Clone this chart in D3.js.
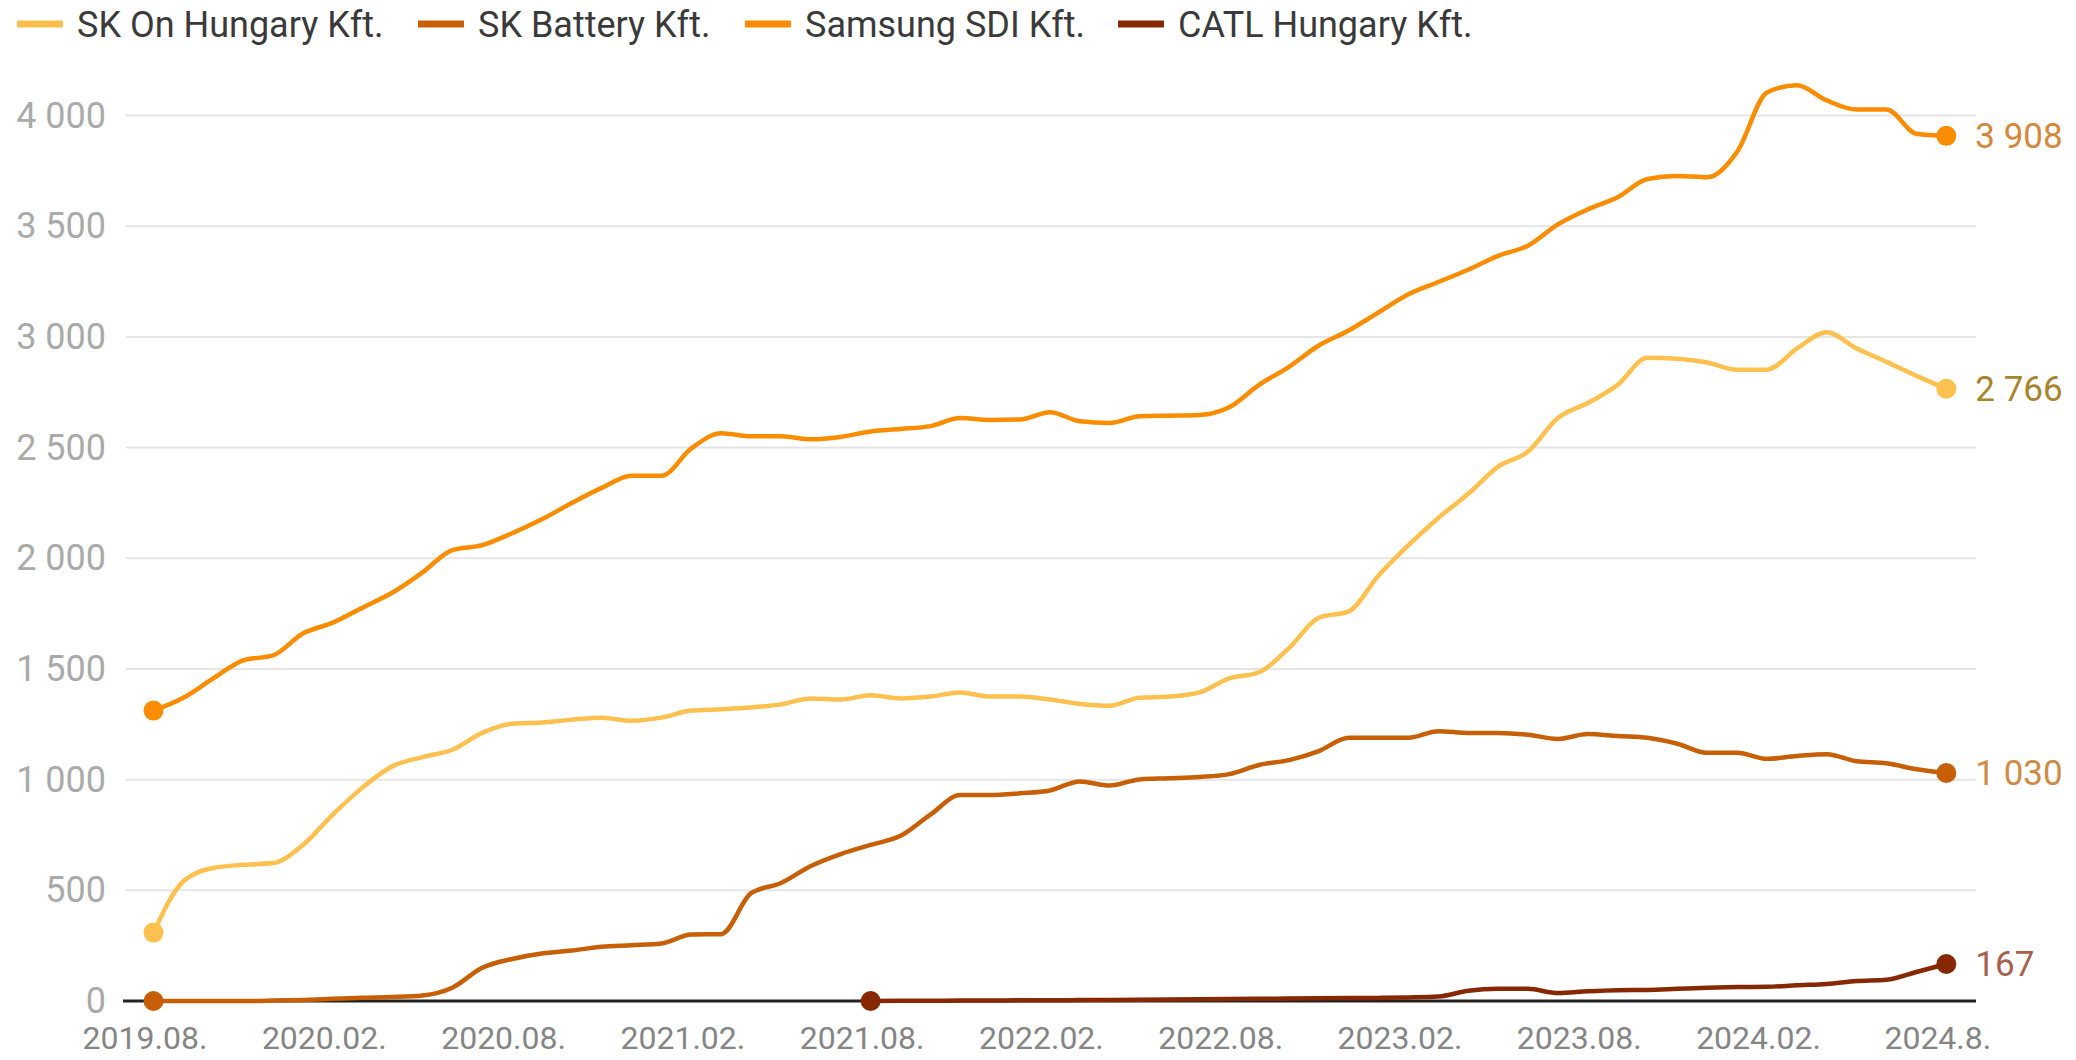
<!DOCTYPE html>
<html>
<head>
<meta charset="utf-8">
<script src="https://cdn.jsdelivr.net/npm/d3@7"></script>
<style>
  body { margin: 0; background: #fff; }
  svg { display: block; font-family: Roboto, "Noto Sans", sans-serif; }
</style>
</head>
<body>
<div class="chart"></div>
<script>
// monthly headcount, 2019.08 .. 2024.08 (61 months)
const tickMonths = [0, 6, 12, 18, 24, 30, 36, 42, 48, 54, 60]
const tickLabels = ["2019.08.", "2020.02.", "2020.08.", "2021.02.", "2021.08.", "2022.02.",
                    "2022.08.", "2023.02.", "2023.08.", "2024.02.", "2024.8."]
const yTicks = [0, 500, 1000, 1500, 2000, 2500, 3000, 3500, 4000]

const seriesNames = ["SK On Hungary Kft.", "SK Battery Kft.", "Samsung SDI Kft.", "CATL Hungary Kft."]

const skOn = [309, 541, 601, 615, 623, 705, 842, 965, 1061, 1102, 1135, 1211, 1252, 1258, 1271, 1280,
  1266, 1280, 1312, 1318, 1326, 1340, 1367, 1362, 1381, 1367, 1375, 1394, 1375, 1375, 1362, 1342,
  1334, 1370, 1375, 1394, 1457, 1485, 1594, 1731, 1760, 1922, 2059, 2182, 2291, 2414, 2482, 2633,
  2701, 2783, 2906, 2901, 2884, 2852, 2852, 2947, 3021, 2947, 2887, 2824, 2766]

const skBattery = [0, 0, 0, 0, 2, 5, 10, 15, 18, 25, 60, 150, 190, 215, 228, 245, 252, 260, 300, 302,
  487, 533, 610, 664, 705, 746, 842, 930, 930, 938, 951, 992, 973, 1001, 1006, 1012, 1025, 1066,
  1088, 1129, 1189, 1189, 1189, 1219, 1211, 1211, 1203, 1184, 1206, 1197, 1189, 1162, 1121, 1121,
  1094, 1107, 1115, 1083, 1074, 1047, 1030]

const samsung = [1312, 1370, 1457, 1539, 1561, 1660, 1709, 1777, 1845, 1936, 2037, 2059, 2113, 2176,
  2250, 2318, 2373, 2373, 2496, 2565, 2551, 2551, 2537, 2548, 2573, 2584, 2597, 2633, 2625, 2627,
  2660, 2619, 2611, 2641, 2644, 2647, 2682, 2783, 2865, 2961, 3029, 3111, 3193, 3248, 3303, 3366,
  3412, 3508, 3576, 3631, 3713, 3727, 3721, 3836, 4104, 4137, 4068, 4027, 4027, 3918, 3908]

const catl = [null, null, null, null, null, null, null, null, null, null, null, null, null, null,
  null, null, null, null, null, null, null, null, null, null,
  0, 1, 1, 2, 2, 3, 3, 4, 5, 6, 7, 8, 9, 10, 11, 12, 13, 14, 16, 20, 46, 55, 55, 36, 44, 49, 50,
  55, 60, 63, 64, 71, 77, 90, 96, 131, 167]

const lineColors = ["#fec04e", "#c65f06", "#fa8c00", "#862802"]
const labelColors = ["#a8842a", "#cf8a45", "#d6873a", "#a8604e"]

const width = 2076, height = 1060
const x = d3.scaleLinear().domain([0, 60]).range([153.5, 1946.3])
const y = d3.scaleLinear().domain([0, 4000]).range([1001, 115.5])
const gridLeft = 126, gridRight = 1976

const fmt = d3.formatLocale({decimal: ",", thousands: " ", grouping: [3], currency: ["", ""]}).format(",d")

const svg = d3.select(".chart").append("svg")
    .attr("width", width)
    .attr("height", height)

// gridlines
svg.append("g").selectAll("line")
    .data(yTicks.filter(function(d) { return d > 0 }))
    .enter().append("line")
    .attr("x1", gridLeft).attr("x2", gridRight)
    .attr("y1", function(d) { return y(d) }).attr("y2", function(d) { return y(d) })
    .attr("stroke", "#e5e5e5").attr("stroke-width", 2)

// y axis labels
const yAxis = d3.axisLeft(y).tickValues(yTicks).tickFormat(fmt).tickSize(0).tickPadding(20)
const gy = svg.append("g").attr("transform", "translate(" + gridLeft + ",0)").call(yAxis)
gy.select(".domain").remove()
gy.selectAll("text").attr("fill", "#aaaaaa").style("font-size", "36px").attr("font-family", "Roboto")

// x axis labels (sit a bit left of their tick, as in the source chart)
const xAxis = d3.axisBottom(x).tickValues(tickMonths)
    .tickFormat(function(d, i) { return tickLabels[i] }).tickSize(0).tickPadding(25)
const gx = svg.append("g").attr("transform", "translate(0,1001)").call(xAxis)
gx.select(".domain").remove()
gx.selectAll("text").attr("fill", "#858585").attr("dx", -9)
    .style("font-size", "32px").attr("font-family", "Roboto")

// baseline
svg.append("line")
    .attr("x1", 123).attr("x2", gridRight)
    .attr("y1", y(0)).attr("y2", y(0))
    .attr("stroke", "#222").attr("stroke-width", 3)

const allSeries = [skOn, skBattery, samsung, catl]

const line = d3.line()
    .defined(function(d) { return d != null })
    .x(function(d, i) { return x(i) })
    .y(function(d) { return y(d) })
    .curve(d3.curveMonotoneX)

allSeries.forEach(function(vals, k) {
  svg.append("path")
      .datum(vals)
      .attr("d", line)
      .attr("fill", "none")
      .attr("stroke", lineColors[k])
      .attr("stroke-width", 4.5)
      .attr("stroke-linejoin", "round")
      .attr("stroke-linecap", "round")

  const first = vals.findIndex(function(d) { return d != null })
  const last = vals.length - 1
  svg.append("g").selectAll("circle")
      .data([first, last])
      .enter().append("circle")
      .attr("cx", function(i) { return x(i) })
      .attr("cy", function(i) { return y(vals[i]) })
      .attr("r", 10)
      .attr("fill", lineColors[k])

  svg.append("text")
      .attr("x", x(last) + 29)
      .attr("y", y(vals[last]))
      .attr("dy", "0.35em")
      .attr("fill", labelColors[k])
      .style("font-size", "35px")
      .text(fmt(vals[last]))
})

// legend
const legendX = [17, 418, 745, 1118]
const legend = svg.append("g").selectAll("g")
    .data(seriesNames)
    .enter().append("g")
    .attr("transform", function(d, i) { return "translate(" + legendX[i] + ",24)" })

legend.append("line")
    .attr("x1", 0).attr("x2", 46).attr("y1", 0).attr("y2", 0)
    .attr("stroke", function(d, i) { return lineColors[i] })
    .attr("stroke-width", 7)

legend.append("text")
    .attr("x", 60)
    .attr("dy", "0.35em")
    .attr("fill", "#3a3a3a")
    .style("font-size", "36px")
    .text(function(d) { return d })
</script>
</body>
</html>
